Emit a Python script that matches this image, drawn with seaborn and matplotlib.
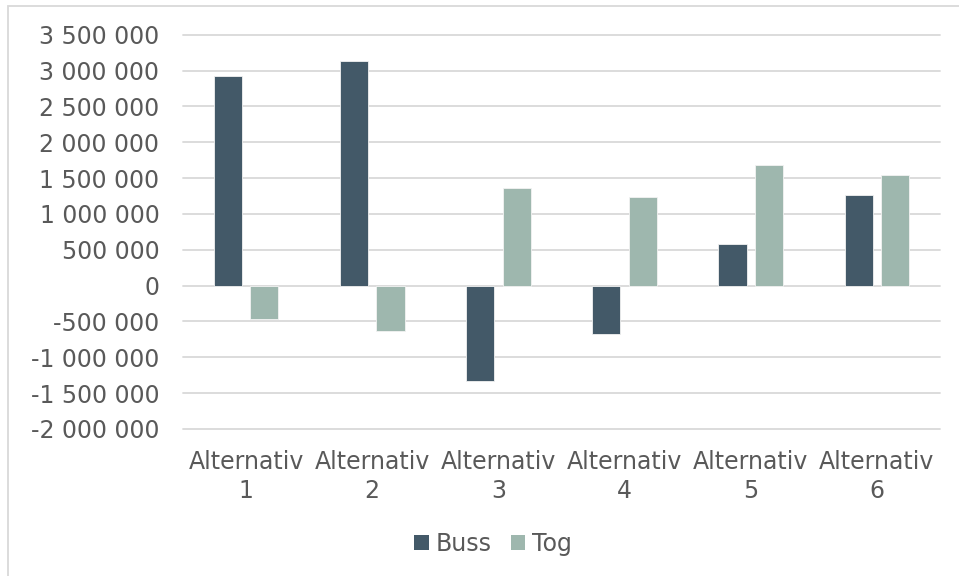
import matplotlib
matplotlib.use("Agg")
import matplotlib.pyplot as plt
from matplotlib.patches import Rectangle, Patch
from matplotlib.ticker import FuncFormatter, MultipleLocator
import seaborn as sns
import pandas as pd

categories = ["Alternativ\n1", "Alternativ\n2", "Alternativ\n3", "Alternativ\n4", "Alternativ\n5", "Alternativ\n6"]
buss = [2925000, 3138000, -1325000, -669000, 577000, 1261000]
tog = [-465000, -632000, 1358000, 1237000, 1683000, 1548000]
series_names = ["Buss", "Tog"]
colors = ["#435968", "#9EB7AE"]

df = pd.DataFrame({
    "Kategori": categories * 2,
    "Verdi": buss + tog,
    "Serie": [series_names[0]] * len(categories) + [series_names[1]] * len(categories),
})

sns.set_theme(style="white")
plt.rcParams["font.family"] = ["DejaVu Sans"]

fig = plt.figure(figsize=(9.59, 5.76), dpi=100)
ax = fig.add_axes([183 / 959, 1 - 429 / 576, (940 - 183) / 959, (429 - 34.7) / 576])

sns.barplot(data=df, x="Kategori", y="Verdi", hue="Serie", palette=colors,
            width=0.58, gap=0.23, ax=ax, legend=False, saturation=1,
            edgecolor="#F2F2F2", linewidth=0.6)

ax.set_ylim(-2000000, 3500000)
ax.set_xlim(-0.5, len(categories) - 0.5)
ax.yaxis.set_major_locator(MultipleLocator(500000))
ax.yaxis.set_major_formatter(FuncFormatter(lambda v, p: f"{int(round(v)):,}".replace(",", " ")))
ax.grid(axis="y", color="#D9D9D9", linewidth=1.3)
ax.set_axisbelow(True)
for s in ax.spines.values():
    s.set_visible(False)
ax.set_xlabel("")
ax.set_ylabel("")
ax.tick_params(axis="y", length=0, pad=17, labelsize=17, labelcolor="#595959")
ax.tick_params(axis="x", length=0, pad=15, labelsize=17, labelcolor="#595959")
for lbl in ax.get_xticklabels():
    lbl.set_linespacing(1.25)
for gl in ax.get_ygridlines():
    gl.set_clip_on(False)

handles = [Patch(facecolor=c, edgecolor="none") for c in colors]
fig.legend(handles, series_names, loc="center", bbox_to_anchor=(493 / 959, 1 - 544 / 576),
           ncol=2, frameon=False, fontsize=17, labelcolor="#595959",
           handlelength=0.6, handleheight=0.6, handletextpad=0.3, columnspacing=0.8)

fig.patches.append(Rectangle((8 / 959, -0.1), 1.2, 1 - 6 / 576 + 0.1, transform=fig.transFigure,
                             fill=False, edgecolor="#D9D9D9", linewidth=1.3))

fig.savefig("out.png", dpi=100)
